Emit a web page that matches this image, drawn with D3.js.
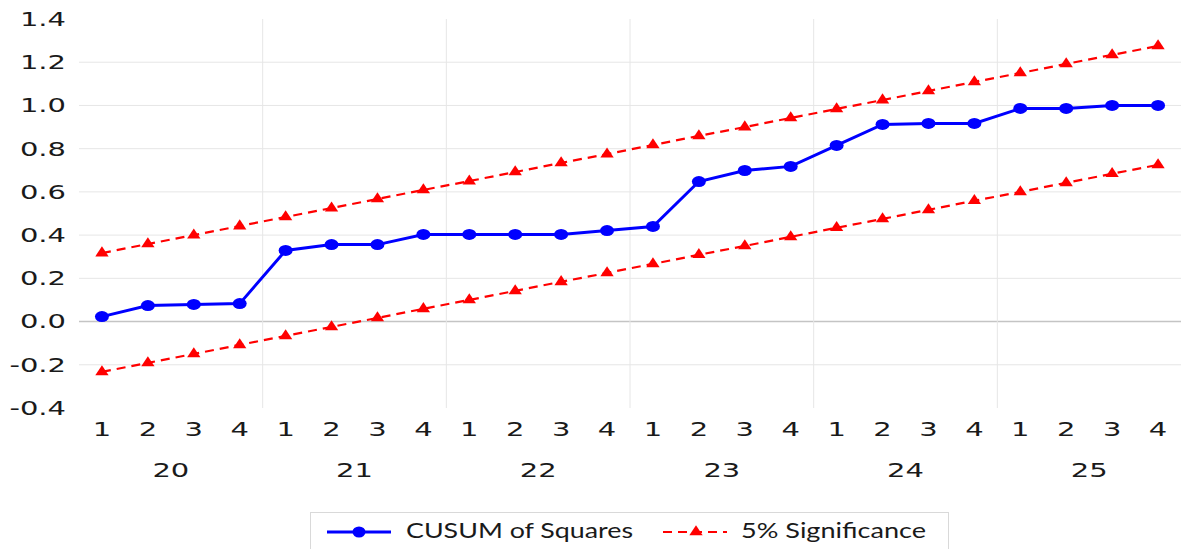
<!DOCTYPE html>
<html>
<head>
<meta charset="utf-8">
<script src="https://cdn.jsdelivr.net/npm/d3@7"></script>
<style>
  html, body { margin: 0; padding: 0; background: #ffffff; }
  svg { display: block; }
</style>
</head>
<body>
<svg id="chart" width="1184" height="549"></svg>
<script>
// Quarterly periods: years and quarter labels
const years = ["20", "21", "22", "23", "24", "25"];
const quarters = ["1", "2", "3", "4"];

// CUSUM of squares statistic, one value per quarter
const cusum = [0.023, 0.074, 0.079, 0.083, 0.329, 0.356, 0.356, 0.403,
               0.403, 0.403, 0.403, 0.421, 0.440, 0.648, 0.699, 0.718,
               0.815, 0.912, 0.917, 0.917, 0.986, 0.986, 1.000, 1.000];

// 5% significance bounds
const upper = [0.317, 0.359, 0.400, 0.442, 0.484, 0.525, 0.567, 0.609,
               0.650, 0.692, 0.734, 0.775, 0.817, 0.859, 0.900, 0.942,
               0.984, 1.025, 1.067, 1.109, 1.150, 1.192, 1.234, 1.275];
const lower = [-0.233, -0.191, -0.150, -0.108, -0.066, -0.025, 0.017, 0.059,
               0.100, 0.142, 0.184, 0.225, 0.267, 0.309, 0.350, 0.392,
               0.434, 0.475, 0.517, 0.559, 0.600, 0.642, 0.684, 0.725];

// Value axis ticks
const yTicks = [-0.4, -0.2, 0.0, 0.2, 0.4, 0.6, 0.8, 1.0, 1.2, 1.4];

const seriesNames = ["CUSUM of Squares", "5% Significance"];

const categories = years.flatMap(yr => quarters.map(q => yr + "Q" + q));

(function draw() {
  const svg = d3.select("#chart");
  const plotLeft = 79, plotRight = 1181, plotTop = 19, plotBottom = 408;
  const STRETCH = 1.45;
  const axisFont = "'DejaVu Sans', Verdana, sans-serif";
  const textColor = "#1a1a1a";

  const x = d3.scaleBand().domain(categories).range([plotLeft, plotRight]).padding(0);
  const y = d3.scaleLinear().domain([-0.4, 1.4]).range([plotBottom, plotTop]);
  const cx = d => x(d) + x.bandwidth() / 2;

  // Horizontal gridlines
  svg.append("g")
    .selectAll("line")
    .data(yTicks.filter(t => t > -0.4 && t < 1.4))
    .join("line")
    .attr("x1", plotLeft).attr("x2", plotRight)
    .attr("y1", d => y(d)).attr("y2", d => y(d))
    .attr("stroke", d => d === 0 ? "#c4c4c4" : "#e6e6e6")
    .attr("stroke-width", d => d === 0 ? 1.5 : 1);

  // Year separators
  svg.append("g")
    .selectAll("line")
    .data(years.slice(1))
    .join("line")
    .attr("x1", d => x(d + "Q1")).attr("x2", d => x(d + "Q1"))
    .attr("y1", plotTop).attr("y2", plotBottom)
    .attr("stroke", "#e6e6e6")
    .attr("stroke-width", 1);

  // Y axis
  const yAxis = svg.append("g")
    .attr("transform", `translate(${plotLeft},0)`)
    .call(d3.axisLeft(y).tickValues(yTicks).tickFormat(d => d.toFixed(1)).tickSize(0));
  yAxis.select(".domain").remove();
  yAxis.selectAll("text")
    .attr("x", 0)
    .attr("transform", `translate(-13,0) scale(${STRETCH},1)`)
    .attr("font-family", axisFont)
    .attr("font-size", 20)
    .attr("fill", textColor);

  // X axis: quarter labels
  const xAxis = svg.append("g")
    .attr("transform", `translate(0,${plotBottom})`)
    .call(d3.axisBottom(x).tickFormat(d => d.slice(-1)).tickSize(0));
  xAxis.select(".domain").remove();
  xAxis.selectAll("text")
    .attr("y", 0)
    .attr("transform", `translate(0,14) scale(${STRETCH},1)`)
    .attr("font-family", axisFont)
    .attr("font-size", 20)
    .attr("fill", textColor);

  // X axis: year labels centred under each group of quarters
  svg.append("g")
    .selectAll("text")
    .data(years)
    .join("text")
    .attr("transform", d => {
      const mid = (x(d + "Q1") + x(d + "Q4") + x.bandwidth()) / 2;
      return `translate(${mid},477) scale(${STRETCH},1)`;
    })
    .attr("text-anchor", "middle")
    .attr("font-family", axisFont)
    .attr("font-size", 20)
    .attr("fill", textColor)
    .text(d => d);

  // Significance bounds
  const line = d3.line().x((d, i) => cx(categories[i])).y(d => y(d));
  const tri = d3.symbol().type(d3.symbolTriangle).size(58);

  [upper, lower].forEach(series => {
    svg.append("path")
      .datum(series)
      .attr("d", line)
      .attr("fill", "none")
      .attr("stroke", "#ff0000")
      .attr("stroke-width", 2.2)
      .attr("stroke-dasharray", "9,6");
    svg.append("g")
      .selectAll("path")
      .data(series)
      .join("path")
      .attr("d", tri)
      .attr("transform", (d, i) => `translate(${cx(categories[i])},${y(d)}) scale(1.15,1)`)
      .attr("fill", "#ff0000");
  });

  // CUSUM of squares line
  svg.append("path")
    .datum(cusum)
    .attr("d", line)
    .attr("fill", "none")
    .attr("stroke", "#0000ff")
    .attr("stroke-width", 3);
  svg.append("g")
    .selectAll("ellipse")
    .data(cusum)
    .join("ellipse")
    .attr("cx", (d, i) => cx(categories[i]))
    .attr("cy", d => y(d))
    .attr("rx", 7)
    .attr("ry", 5.5)
    .attr("fill", "#0000ff");

  // Legend
  const legend = svg.append("g");
  legend.append("rect")
    .attr("x", 310.5).attr("y", 512.5)
    .attr("width", 638).attr("height", 44)
    .attr("fill", "#ffffff")
    .attr("stroke", "#d9d9d9");

  const ly = 532;
  legend.append("line")
    .attr("x1", 327).attr("x2", 391).attr("y1", ly).attr("y2", ly)
    .attr("stroke", "#0000ff").attr("stroke-width", 3);
  legend.append("ellipse")
    .attr("cx", 359).attr("cy", ly).attr("rx", 6.5).attr("ry", 5.5)
    .attr("fill", "#0000ff");
  legend.append("text")
    .attr("x", 406).attr("y", 538)
    .attr("font-family", "Lato, 'Open Sans', sans-serif")
    .attr("font-size", 21)
    .attr("fill", textColor)
    .attr("textLength", 227)
    .attr("lengthAdjust", "spacingAndGlyphs")
    .text(seriesNames[0]);

  legend.append("line")
    .attr("x1", 663).attr("x2", 727).attr("y1", ly).attr("y2", ly)
    .attr("stroke", "#ff0000").attr("stroke-width", 2.2)
    .attr("stroke-dasharray", "9,6");
  legend.append("path")
    .attr("d", tri)
    .attr("transform", `translate(696,${ly}) scale(1.15,1)`)
    .attr("fill", "#ff0000");
  legend.append("text")
    .attr("x", 741).attr("y", 538)
    .attr("font-family", "Lato, 'Open Sans', sans-serif")
    .attr("font-size", 21)
    .attr("fill", textColor)
    .attr("textLength", 185)
    .attr("lengthAdjust", "spacingAndGlyphs")
    .text(seriesNames[1]);
})();
</script>
</body>
</html>
